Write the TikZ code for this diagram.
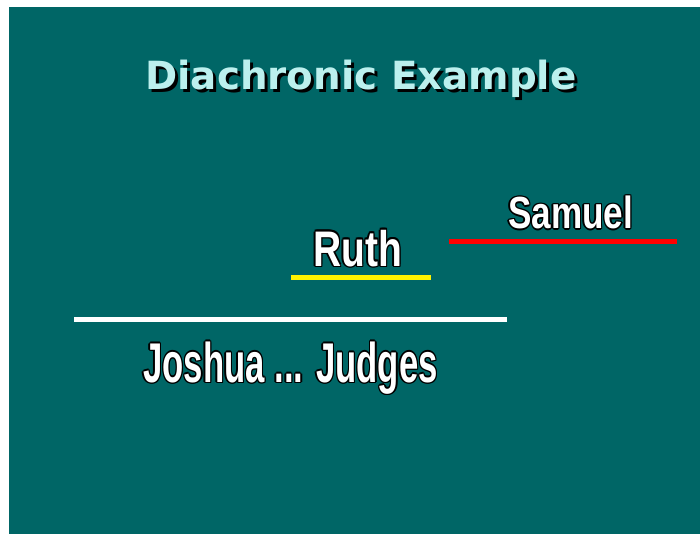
\documentclass[tikz,border=0pt]{standalone}
\usepackage{fontspec}
\setmainfont{Liberation Sans}
\newfontfamily\titlefont{DejaVu Sans}
\definecolor{bg}{RGB}{0,102,102}
\definecolor{titlecyan}{RGB}{188,240,238}
\tikzset{
  lbl/.style={inner sep=0pt, anchor=base west, font=\bfseries},
  bar/.style={line width=5pt},
}
\newcommand\outlined[4]{% name, x, y, size
  \foreach \dx/\dy [count=\k] in {-1.4/0,1.4/0,0/-1.4,0/1.4,-1/-1,1/1,-1/1,1/-1}{
    \node[lbl, text=black] (#1s\k) at (#2+\dx,#3+\dy) {\fontsize{#4}{#4}\selectfont\bfseries\outscale{#1}};
  }
  \node[lbl, text=white] (#1) at (#2,#3) {\fontsize{#4}{#4}\selectfont\bfseries\outscale{#1}};
}
\newcommand\outscale[1]{\csname txt#1\endcsname}
\newcommand\txtruth{\scalebox{0.78}[1]{Ruth}}
\newcommand\txtsamuel{\scalebox{0.78}[1]{Samuel}}
\newcommand\txtjoshua{\scalebox{0.62}[1]{Joshua ... Judges}}
\begin{document}
\begin{tikzpicture}[x=1pt,y=-1pt]
\useasboundingbox (0,0) rectangle (700,534);
\fill[white] (0,0) rectangle (700,534);
\fill[bg] (9,7) rectangle (700,534);
% title
\node[inner sep=0pt, anchor=base, text=black, font=\titlefont\bfseries\fontsize{38.8}{39}\selectfont] (titleshadow) at (364,93) {Diachronic Example};
\node[inner sep=0pt, anchor=base, text=titlecyan, font=\titlefont\bfseries\fontsize{38.8}{39}\selectfont] (title) at (361,90) {Diachronic Example};
% bars
\draw[bar, yellow] (291,277) -- (431,277);
\draw[bar, red] (449,242) -- (677,242);
\draw[bar, white] (74,319) -- (507,319);
% labels
\outlined{ruth}{313}{266}{50}
\outlined{samuel}{508}{229}{45}
\outlined{joshua}{143}{382}{56}
\end{tikzpicture}
\end{document}
